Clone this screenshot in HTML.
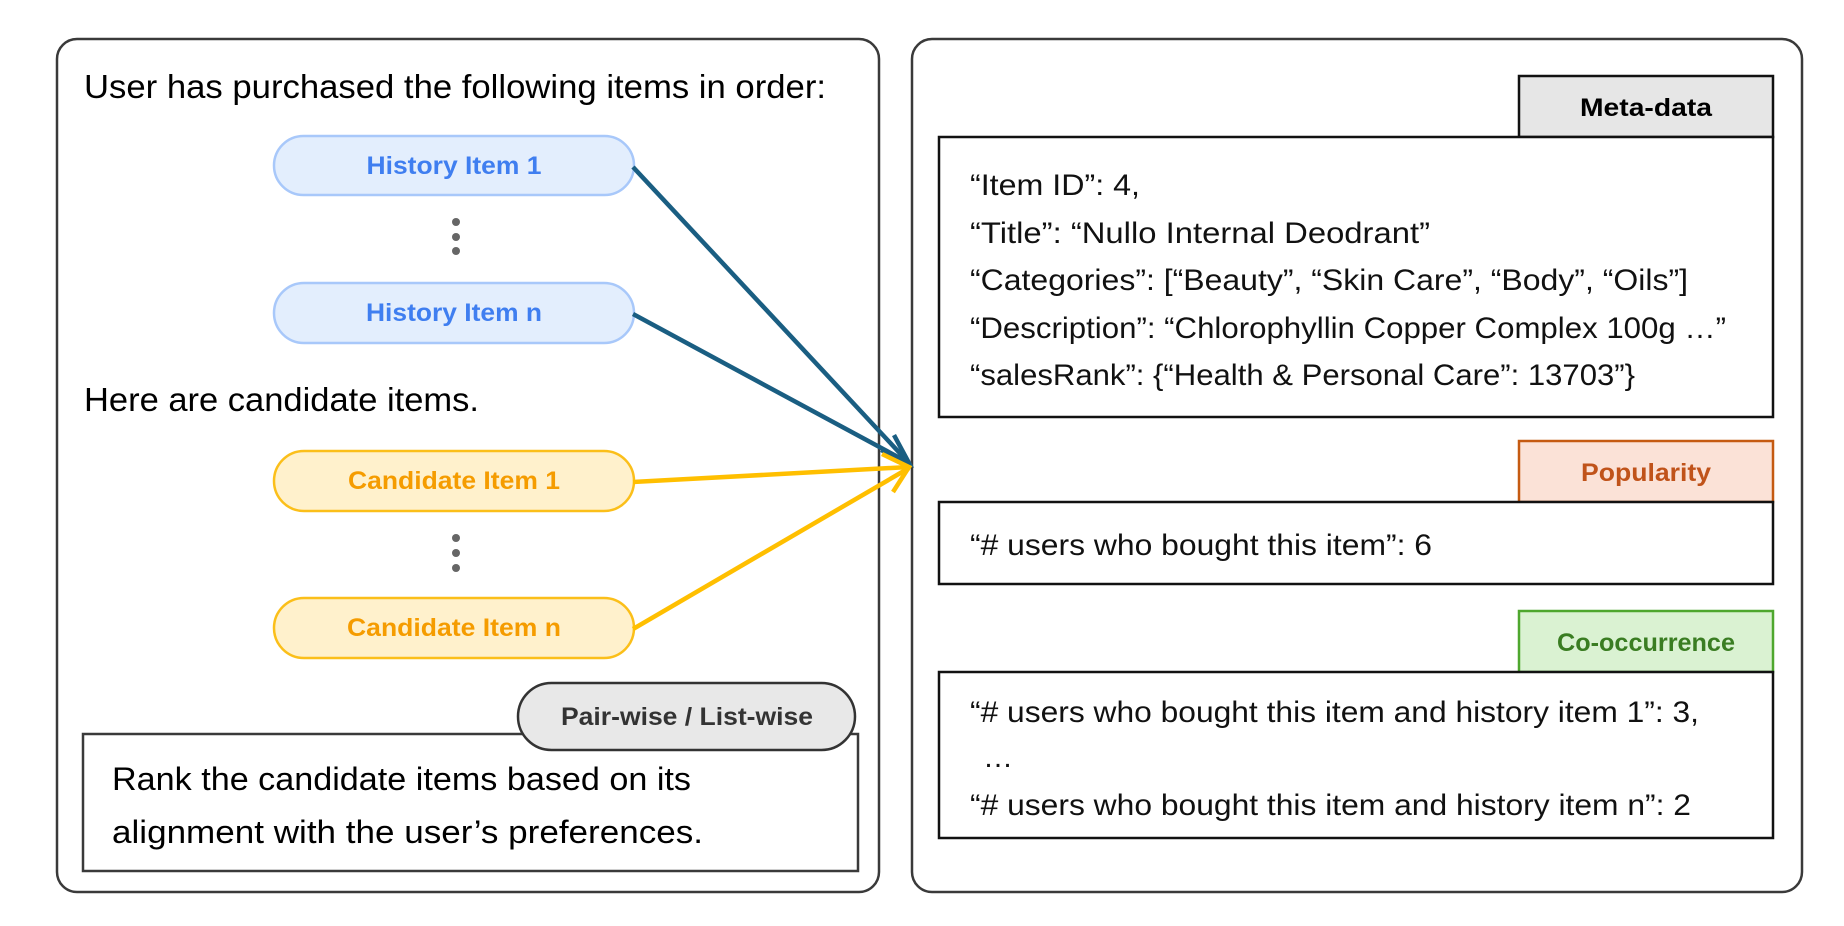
<!DOCTYPE html>
<html><head><meta charset="utf-8"><style>
html,body{margin:0;padding:0;background:#fff;}
svg{display:block;}
text{font-family:"Liberation Sans",sans-serif;}
</style></head><body>
<svg width="1844" height="926" viewBox="0 0 1844 926" xmlns="http://www.w3.org/2000/svg">
<rect x="57" y="39" width="822" height="853" rx="20" fill="#fff" stroke="#3a3a3a" stroke-width="2.5"/>
<rect x="912" y="39" width="890" height="853" rx="20" fill="#fff" stroke="#3a3a3a" stroke-width="2.5"/>

<text x="84" y="98" font-size="33" fill="#000" textLength="742" lengthAdjust="spacingAndGlyphs">User has purchased the following items in order:</text>

<rect x="274" y="136" width="360" height="59" rx="29.5" fill="#e3eefd" stroke="#a8c8fa" stroke-width="2.5"/>
<text x="454" y="174" font-size="25" font-weight="bold" fill="#3f7ef0" text-anchor="middle" textLength="175" lengthAdjust="spacingAndGlyphs">History Item 1</text>
<circle cx="456" cy="222" r="4" fill="#666"/><circle cx="456" cy="237" r="4" fill="#666"/><circle cx="456" cy="251" r="4" fill="#666"/>
<rect x="274" y="283" width="360" height="60" rx="30" fill="#e3eefd" stroke="#a8c8fa" stroke-width="2.5"/>
<text x="454" y="321" font-size="25" font-weight="bold" fill="#3f7ef0" text-anchor="middle" textLength="176" lengthAdjust="spacingAndGlyphs">History Item n</text>

<text x="84" y="411" font-size="33" fill="#000" textLength="395" lengthAdjust="spacingAndGlyphs">Here are candidate items.</text>

<rect x="274" y="451" width="360" height="60" rx="30" fill="#fff1cc" stroke="#fbbf1a" stroke-width="2.5"/>
<text x="454" y="489" font-size="25" font-weight="bold" fill="#f59c00" text-anchor="middle" textLength="212" lengthAdjust="spacingAndGlyphs">Candidate Item 1</text>
<circle cx="456" cy="538" r="4" fill="#666"/><circle cx="456" cy="553" r="4" fill="#666"/><circle cx="456" cy="568" r="4" fill="#666"/>
<rect x="274" y="598" width="360" height="60" rx="30" fill="#fff1cc" stroke="#fbbf1a" stroke-width="2.5"/>
<text x="454" y="636" font-size="25" font-weight="bold" fill="#f59c00" text-anchor="middle" textLength="214" lengthAdjust="spacingAndGlyphs">Candidate Item n</text>

<g stroke-width="4.5" fill="none" stroke-linecap="butt">
<line x1="633" y1="167" x2="909" y2="463" stroke="#1a5e82"/>
<line x1="633" y1="314" x2="909" y2="463" stroke="#1a5e82"/>
<polyline points="894,435 909,463 881,450" stroke="#1a5e82"/>
<line x1="633" y1="482" x2="909" y2="467" stroke="#ffbf00"/>
<line x1="633" y1="629" x2="909" y2="468" stroke="#ffbf00"/>
<polyline points="882,454 909,467 893,492" stroke="#ffbf00"/>
</g>

<rect x="83" y="734" width="775" height="137" fill="#fff" stroke="#3a3a3a" stroke-width="2.5"/>
<rect x="518" y="683" width="337" height="67" rx="33.5" fill="#e8e8e8" stroke="#333" stroke-width="2.5"/>
<text x="687" y="725" font-size="25" font-weight="bold" fill="#333" text-anchor="middle" textLength="252" lengthAdjust="spacingAndGlyphs">Pair-wise / List-wise</text>
<text x="112" y="790" font-size="32" fill="#000" textLength="579" lengthAdjust="spacingAndGlyphs">Rank the candidate items based on its</text>
<text x="112" y="843" font-size="32" fill="#000" textLength="591" lengthAdjust="spacingAndGlyphs">alignment with the user’s preferences.</text>

<rect x="1519" y="76" width="254" height="61" fill="#e6e6e6" stroke="#111" stroke-width="2.5"/>
<text x="1646" y="116" font-size="25" font-weight="bold" fill="#000" text-anchor="middle" textLength="132" lengthAdjust="spacingAndGlyphs">Meta-data</text>
<rect x="939" y="137" width="834" height="280" fill="#fff" stroke="#111" stroke-width="2.5"/>
<g font-size="30" fill="#111">
<text x="970" y="195" textLength="170" lengthAdjust="spacingAndGlyphs">“Item ID”: 4,</text>
<text x="970" y="243" textLength="460" lengthAdjust="spacingAndGlyphs">“Title”: “Nullo Internal Deodrant”</text>
<text x="970" y="290" textLength="718" lengthAdjust="spacingAndGlyphs">“Categories”: [“Beauty”, “Skin Care”, “Body”, “Oils”]</text>
<text x="970" y="338" textLength="756" lengthAdjust="spacingAndGlyphs">“Description”: “Chlorophyllin Copper Complex 100g …”</text>
<text x="970" y="385" textLength="665" lengthAdjust="spacingAndGlyphs">“salesRank”: {“Health &amp; Personal Care”: 13703”}</text>
</g>

<rect x="1519" y="441" width="254" height="61" fill="#fbe2d7" stroke="#c55a11" stroke-width="2.5"/>
<text x="1646" y="481" font-size="25" font-weight="bold" fill="#c0531a" text-anchor="middle" textLength="130" lengthAdjust="spacingAndGlyphs">Popularity</text>
<rect x="939" y="502" width="834" height="82" fill="#fff" stroke="#111" stroke-width="2.5"/>
<text x="970" y="555" font-size="30" fill="#111" textLength="462" lengthAdjust="spacingAndGlyphs">“# users who bought this item”: 6</text>

<rect x="1519" y="611" width="254" height="61" fill="#daf2d2" stroke="#4ea72e" stroke-width="2.5"/>
<text x="1646" y="651" font-size="25" font-weight="bold" fill="#3a7d22" text-anchor="middle" textLength="178" lengthAdjust="spacingAndGlyphs">Co-occurrence</text>
<rect x="939" y="672" width="834" height="166" fill="#fff" stroke="#111" stroke-width="2.5"/>
<g font-size="30" fill="#111">
<text x="970" y="722" textLength="729" lengthAdjust="spacingAndGlyphs">“# users who bought this item and history item 1”: 3,</text>
<text x="983" y="767">…</text>
<text x="970" y="815" textLength="721" lengthAdjust="spacingAndGlyphs">“# users who bought this item and history item n”: 2</text>
</g>
</svg>
</body></html>
